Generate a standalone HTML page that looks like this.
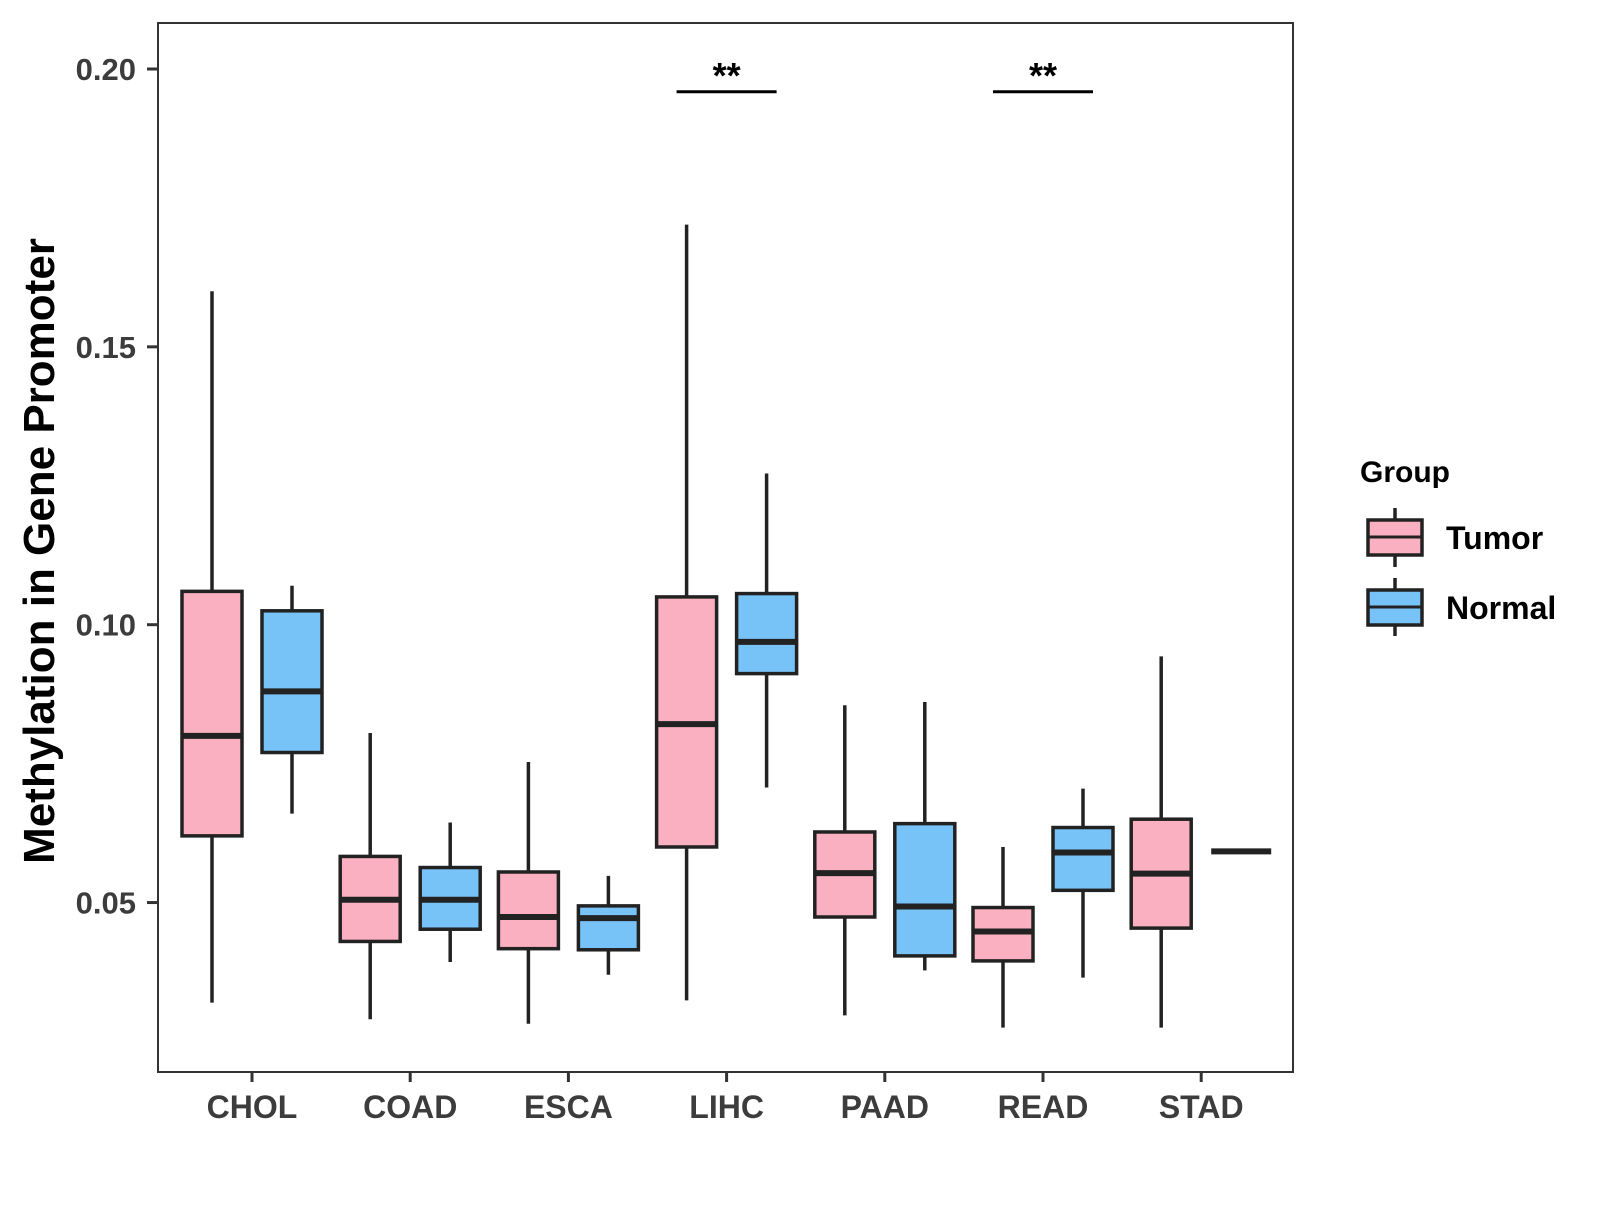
<!DOCTYPE html>
<html><head><meta charset="utf-8"><style>
body{margin:0;background:#fff}
svg text{font-family:"Liberation Sans",Arial,sans-serif;font-weight:bold}
</style></head><body>
<svg width="1600" height="1200" viewBox="0 0 1600 1200" xmlns="http://www.w3.org/2000/svg">
<rect x="0" y="0" width="1600" height="1200" fill="#fff"/>
<g id="marks"></g>
<rect x="158" y="23" width="1135" height="1049" fill="none" stroke="#333" stroke-width="2"/>
<g id="axes"></g>
<text x="54" y="551" transform="rotate(-90 54 551)" text-anchor="middle" font-size="44" fill="#000">Methylation in Gene Promoter</text>
<g transform="translate(-7,-2)">
<text x="1367" y="484" font-size="30" fill="#000">Group</text>
<g>
<line x1="1402" y1="510" x2="1402" y2="569" stroke="#222" stroke-width="3.5"/>
<rect x="1375" y="522" width="54" height="35" fill="#FAB0C0" stroke="#222" stroke-width="3.5"/>
<line x1="1375" y1="539" x2="1429" y2="539" stroke="#222" stroke-width="3"/>
<text x="1453" y="551" font-size="32" fill="#000">Tumor</text></g>
<g>
<line x1="1402" y1="580" x2="1402" y2="638" stroke="#222" stroke-width="3.5"/>
<rect x="1375" y="592" width="54" height="35" fill="#77C3F8" stroke="#222" stroke-width="3.5"/>
<line x1="1375" y1="609" x2="1429" y2="609" stroke="#222" stroke-width="3"/>
<text x="1453" y="621" font-size="32" fill="#000">Normal</text></g>
</g>
</svg>
<script>
const categories=["CHOL","COAD","ESCA","LIHC","PAAD","READ","STAD"];
const tumorMin=[0.032,0.029,0.0282,0.0324,0.0297,0.0275,0.0275];
const tumorQ1=[0.062,0.043,0.0417,0.060,0.0474,0.0395,0.0454];
const tumorMed=[0.080,0.0505,0.0474,0.0821,0.0553,0.0448,0.0552];
const tumorQ3=[0.106,0.0583,0.0555,0.105,0.0627,0.0491,0.065];
const tumorMax=[0.160,0.0805,0.0753,0.172,0.0855,0.060,0.0943];
const normalMin=[0.066,0.0393,0.037,0.0707,0.0378,0.0365,0.0592];
const normalQ1=[0.077,0.0452,0.0415,0.0912,0.0404,0.0522,0.0592];
const normalMed=[0.088,0.0505,0.0472,0.0969,0.0493,0.0590,0.0592];
const normalQ3=[0.1025,0.0563,0.0494,0.1056,0.0642,0.0635,0.0592];
const normalMax=[0.107,0.0644,0.0548,0.1272,0.0861,0.0705,0.0592];
const yTicks=[0.05,0.10,0.15,0.20];
const yTickLabels=["0.05","0.10","0.15","0.20"];
const sigCategories=["LIHC","READ"];
const sigLabels=["**","**"];
const sigLevel=0.1959;

const NS="http://www.w3.org/2000/svg";
const y=v=>69+(0.2-v)*5557;
const x=i=>252+i*158.2;
function mk(t,a,p){const e=document.createElementNS(NS,t);for(const k in a)e.setAttribute(k,a[k]);p.appendChild(e);return e;}
const marks=document.getElementById('marks'), axes=document.getElementById('axes');
function box(cx,mn,q1,md,q3,mx,fill,name){
  const g=mk('g',{},marks);
  
  
  const st={stroke:'#222','stroke-width':3.5};
  mk('line',Object.assign({x1:cx,x2:cx,y1:y(mx),y2:y(mn)},st),g);
  mk('rect',Object.assign({x:cx-30,width:60,y:y(q3),height:Math.max(0,y(q1)-y(q3)),fill:fill},st),g);
  mk('line',{x1:cx-30,x2:cx+30,y1:y(md),y2:y(md),stroke:'#222','stroke-width':6},g);
}
categories.forEach((c,i)=>{
  box(x(i)-40,tumorMin[i],tumorQ1[i],tumorMed[i],tumorQ3[i],tumorMax[i],'#FAB0C0','box-tumor-'+c.toLowerCase());
  box(x(i)+40,normalMin[i],normalQ1[i],normalMed[i],normalQ3[i],normalMax[i],'#77C3F8','box-normal-'+c.toLowerCase());
  mk('line',{x1:x(i),x2:x(i),y1:1072,y2:1082,stroke:'#333','stroke-width':3},axes);
  const t=mk('text',{x:x(i),y:1118,'text-anchor':'middle','font-size':32,fill:'#3c3c3c'},axes);
  
  
  t.textContent=c;
});
yTicks.forEach((v,i)=>{
  mk('line',{x1:147,x2:158,y1:y(v),y2:y(v),stroke:'#333','stroke-width':3},axes);
  const t=mk('text',{x:136,y:y(v)+11,'text-anchor':'end','font-size':31,fill:'#3c3c3c'},axes);
  
  
  t.textContent=yTickLabels[i];
});
sigCategories.forEach((c,k)=>{
  const i=categories.indexOf(c);
  const g=mk('g',{},marks);
  
  
  mk('line',{x1:x(i)-50,x2:x(i)+50,y1:y(sigLevel),y2:y(sigLevel),stroke:'#000','stroke-width':3},g);
  const t=mk('text',{x:x(i),y:y(sigLevel)-4,'text-anchor':'middle','font-size':36,fill:'#000'},g);
  t.textContent=sigLabels[k];
});
</script>
</body></html>
